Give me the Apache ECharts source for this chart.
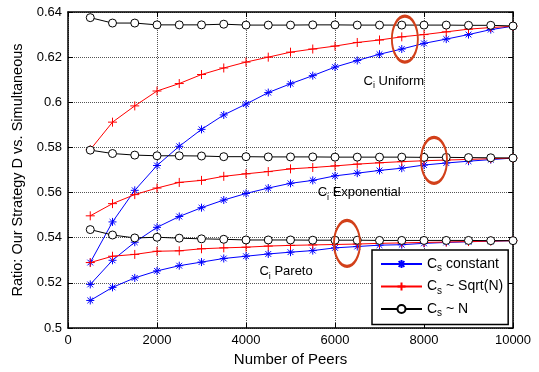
<!DOCTYPE html>
<html>
<head>
<meta charset="utf-8">
<script src="https://cdn.jsdelivr.net/npm/echarts@6/dist/echarts.min.js"></script>
<style>
  html, body { margin: 0; padding: 0; background: #fff; }
  #chart { width: 539px; height: 372px; }
</style>
</head>
<body>
<div id="chart"></div>
<script>
// number of peers (x)
const peers = [500, 1000, 1500, 2000, 2500, 3000, 3500, 4000, 4500, 5000,
  5500, 6000, 6500, 7000, 7500, 8000, 8500, 9000, 9500, 10000];

// C_i uniform
const uniformConst = [0.529, 0.547, 0.561, 0.572, 0.5805, 0.588, 0.5944, 0.5992, 0.6043, 0.6082,
  0.6118, 0.6156, 0.6185, 0.6213, 0.6236, 0.6261, 0.628, 0.630, 0.6322, 0.6337];
const uniformSqrt = [0.579, 0.5912, 0.5984, 0.605, 0.6083, 0.6123, 0.6152, 0.6178, 0.620, 0.6222,
  0.6236, 0.6249, 0.6265, 0.6276, 0.629, 0.630, 0.6312, 0.6324, 0.6331, 0.6337];
const uniformN = [0.6375, 0.6351, 0.6351, 0.6343, 0.6343, 0.6343, 0.6346, 0.6342, 0.6342, 0.6342,
  0.6343, 0.6343, 0.6342, 0.6342, 0.6342, 0.6342, 0.6342, 0.6341, 0.6341, 0.6338];

// C_i exponential
const expConst = [0.5193, 0.530, 0.538, 0.5446, 0.5494, 0.5533, 0.5567, 0.5596, 0.562, 0.5641,
  0.5654, 0.5674, 0.5686, 0.5698, 0.5708, 0.5722, 0.5731, 0.5739, 0.5746, 0.5753];
const expSqrt = [0.5497, 0.5551, 0.5591, 0.562, 0.5645, 0.5654, 0.5672, 0.5683, 0.5693, 0.5705,
  0.5711, 0.5718, 0.5726, 0.5732, 0.5737, 0.5741, 0.5744, 0.5747, 0.575, 0.5753];
const expN = [0.5788, 0.5773, 0.5766, 0.5763, 0.5763, 0.5762, 0.5759, 0.5759, 0.5758, 0.5758,
  0.5758, 0.5757, 0.5757, 0.5757, 0.5757, 0.5756, 0.5756, 0.5755, 0.5754, 0.5753];

// C_i pareto
const paretoConst = [0.5122, 0.518, 0.5222, 0.5253, 0.5276, 0.5292, 0.5308, 0.5318, 0.5328, 0.5336,
  0.5343, 0.5355, 0.5361, 0.5367, 0.5369, 0.5375, 0.5379, 0.5382, 0.5385, 0.5387];
const paretoSqrt = [0.529, 0.5318, 0.5326, 0.534, 0.5342, 0.5351, 0.5355, 0.5358, 0.5363, 0.5366,
  0.5368, 0.537, 0.5372, 0.5375, 0.5377, 0.5379, 0.5381, 0.5383, 0.5385, 0.5387];
const paretoN = [0.5436, 0.5412, 0.5399, 0.5402, 0.5398, 0.5395, 0.5393, 0.539, 0.539, 0.539,
  0.5389, 0.5389, 0.5389, 0.5388, 0.5388, 0.5388, 0.5388, 0.5388, 0.5387, 0.5387];

const legendNames = ['Cs constant', 'Cs ~ Sqrt(N)', 'Cs ~ N'];

// annotation labels [x, y, text after C_i]
const labels = [
  [6630, 0.6094, 'Uniform'],
  [5600, 0.5599, 'Exponential'],
  [4290, 0.5249, 'Pareto']
];
// highlight ellipses (centre in data units)
const ellipses = [[7570, 0.628], [8225, 0.5743], [6270, 0.5375]];

const FONT = 'Liberation Sans, Arial, Helvetica, sans-serif';
const starPath = 'path://M0,-5L0,5M-5,0L5,0M-3.6,-3.6L3.6,3.6M-3.6,3.6L3.6,-3.6';
const plusPath = 'path://M0,-5L0,5M-5,0L5,0';
const ringPath = 'path://M-5,0A5,5 0 1,0 5,0A5,5 0 1,0 -5,0Z';

const styles = [
  { name: legendNames[0], color: '#0000ff', fill: '#0000ff', symbol: starPath, size: 8 },
  { name: legendNames[1], color: '#ff0000', fill: '#ff0000', symbol: plusPath, size: 9 },
  { name: legendNames[2], color: '#000000', fill: '#ffffff', symbol: ringPath, size: 8 }
];

const pair = (ys) => peers.map((x, i) => [x, ys[i]]);

const makeSeries = (st, ys) => ({
  name: st.name,
  type: 'line',
  data: pair(ys),
  symbol: st.symbol,
  symbolSize: st.size,
  showAllSymbol: true,
  lineStyle: { color: st.color, width: 1 },
  itemStyle: { color: st.fill, borderColor: st.color, borderWidth: 1 },
  emphasis: { disabled: true },
  animation: false
});

const series = [
  makeSeries(styles[0], uniformConst),
  makeSeries(styles[0], expConst),
  makeSeries(styles[0], paretoConst),
  makeSeries(styles[1], uniformSqrt),
  makeSeries(styles[1], expSqrt),
  makeSeries(styles[1], paretoSqrt),
  makeSeries(styles[2], uniformN),
  makeSeries(styles[2], expN),
  makeSeries(styles[2], paretoN)
];

// annotations carried on an empty series
series.push({
  type: 'line',
  data: [],
  silent: true,
  markPoint: {
    animation: false,
    data: labels.map(l => ({
      coord: [l[0], l[1]],
      symbol: 'rect',
      symbolSize: 1,
      itemStyle: { color: 'transparent' },
      label: {
        show: true,
        position: 'right',
        distance: 0,
        formatter: '{m|C}{s|i}{m| ' + l[2] + '}',
        rich: {
          m: { fontSize: 13, fontFamily: FONT, color: '#000' },
          s: { fontSize: 9, fontFamily: FONT, color: '#000', padding: [9, 0, 0, 0] }
        }
      }
    })).concat(ellipses.map(e => ({
      coord: e,
      symbol: 'circle',
      symbolSize: [26, 46],
      itemStyle: { color: 'none', borderColor: '#d2401a', borderWidth: 2.5 },
      label: { show: false }
    })))
  }
});

const chart = echarts.init(document.getElementById('chart'));

const axisBase = {
  axisLine: { show: true, onZero: false, lineStyle: { color: '#000', width: 1.5 } },
  axisTick: { show: true, inside: true, length: 5, lineStyle: { color: '#000' } }
};

chart.setOption({
  backgroundColor: '#fff',
  animation: false,
  textStyle: { fontFamily: FONT },
  grid: { left: 68, right: 26, top: 12, bottom: 40, show: false },
  legend: {
    data: legendNames,
    orient: 'vertical',
    left: 372,
    top: 250,
    backgroundColor: '#fff',
    borderColor: '#000',
    borderWidth: 1.5,
    borderRadius: 0,
    padding: [7, 5, 6, 8],
    itemWidth: 41,
    itemHeight: 10,
    itemGap: 6,
    selectedMode: false,
    formatter: n => '{m|C}{s|s}{m|' + n.slice(2) + '}',
    textStyle: {
      rich: {
        m: { fontSize: 14, fontFamily: FONT, color: '#000' },
        s: { fontSize: 10, fontFamily: FONT, color: '#000', padding: [9, 0, 0, 0] }
      }
    }
  },
  xAxis: [
    Object.assign({
      type: 'value', min: 0, max: 10000, interval: 2000,
      position: 'bottom',
      name: 'Number of Peers', nameLocation: 'middle', nameGap: 24,
      nameTextStyle: { fontSize: 15, color: '#000', fontFamily: FONT },
      axisLabel: { color: '#000', fontSize: 13, margin: 6, formatter: v => String(v) },
      splitLine: { show: true, lineStyle: { type: 'dotted', color: '#555', width: 1 } }
    }, axisBase),
    Object.assign({
      type: 'value', min: 0, max: 10000, interval: 2000,
      position: 'top',
      axisLabel: { show: false },
      splitLine: { show: false }
    }, axisBase)
  ],
  yAxis: [
    Object.assign({
      type: 'value', min: 0.5, max: 0.64, interval: 0.02,
      position: 'left',
      name: 'Ratio: Our Strategy D vs. Simultaneous', nameLocation: 'middle', nameGap: 40,
      nameTextStyle: { fontSize: 14.5, color: '#000', fontFamily: FONT },
      axisLabel: { color: '#000', fontSize: 13, margin: 6, formatter: v => String(+v.toFixed(2)) },
      splitLine: { show: true, lineStyle: { type: 'dotted', color: '#555', width: 1 } }
    }, axisBase),
    Object.assign({
      type: 'value', min: 0.5, max: 0.64, interval: 0.02,
      position: 'right',
      axisLabel: { show: false },
      splitLine: { show: false }
    }, axisBase)
  ],
  series: series
});
</script>
</body>
</html>
